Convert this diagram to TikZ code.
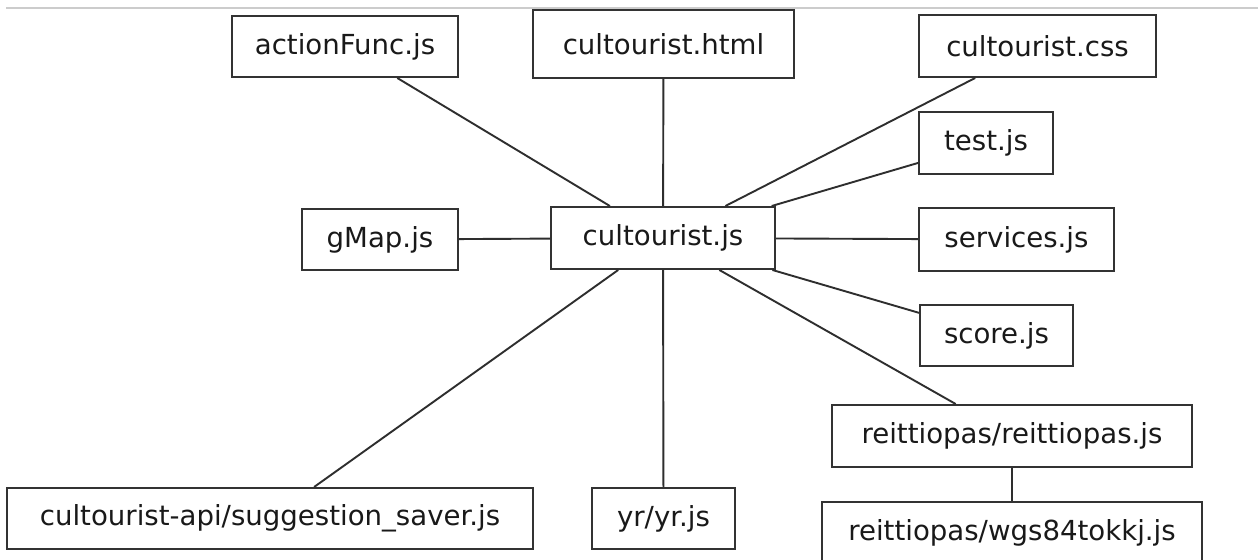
\documentclass[tikz,border=0pt]{standalone}
\usepackage{fontspec}
\setmainfont{DejaVu Sans}
\begin{document}
\begin{tikzpicture}[x=0.5pt,y=-0.5pt,
  box/.style={draw=black!80,line width=1pt,fill=white,inner sep=0pt,font=\fontsize{13.8}{16}\selectfont,text=black!90},
  link/.style={draw=black!82,line width=0.95pt}]
\clip (0,0) rectangle (1258,560);
\fill[white] (0,0) rectangle (1258,560);
\draw[black!20,line width=1pt] (6,8) -- (1258,8);
\node[box,minimum width=113pt,minimum height=30.5pt] (af) at (345,46.5) {actionFunc.js};
\node[box,minimum width=130.5pt,minimum height=34pt] (html) at (663.5,44) {cultourist.html};
\node[box,minimum width=118.5pt,minimum height=31pt] (css) at (1037.5,46) {cultourist.css};
\node[box,minimum width=67pt,minimum height=31pt] (test) at (986,143) {test.js};
\node[box,minimum width=78pt,minimum height=30.5pt] (gmap) at (380,239.5) {gMap.js};
\node[box,minimum width=112pt,minimum height=31pt] (main) at (663,238) {cultourist.js};
\node[box,minimum width=97.5pt,minimum height=31.5pt] (serv) at (1016.5,239.5) {services.js};
\node[box,minimum width=76.5pt,minimum height=30.5pt] (score) at (996.5,335.5) {score.js};
\node[box,minimum width=180pt,minimum height=31pt] (reit) at (1012,436) {reittiopas/reittiopas.js};
\node[box,minimum width=263pt,minimum height=30.5pt] (sugg) at (270,518.5) {cultourist-api/suggestion\_saver.js};
\node[box,minimum width=71.5pt,minimum height=30.5pt] (yr) at (663.5,518.5) {yr/yr.js};
\node[box,minimum width=190pt,minimum height=30.5pt] (wgs) at (1012,532.5) {reittiopas/wgs84tokkj.js};
\draw[link] (main) -- (af);
\draw[link] (main) -- (html);
\draw[link] (main) -- (css);
\draw[link] (main) -- (test);
\draw[link] (main) -- (gmap);
\draw[link] (main) -- (serv);
\draw[link] (main) -- (score);
\draw[link] (main) -- (reit);
\draw[link] (main) -- (sugg);
\draw[link] (main) -- (yr);
\draw[link] (reit) -- (wgs);
\end{tikzpicture}
\end{document}
